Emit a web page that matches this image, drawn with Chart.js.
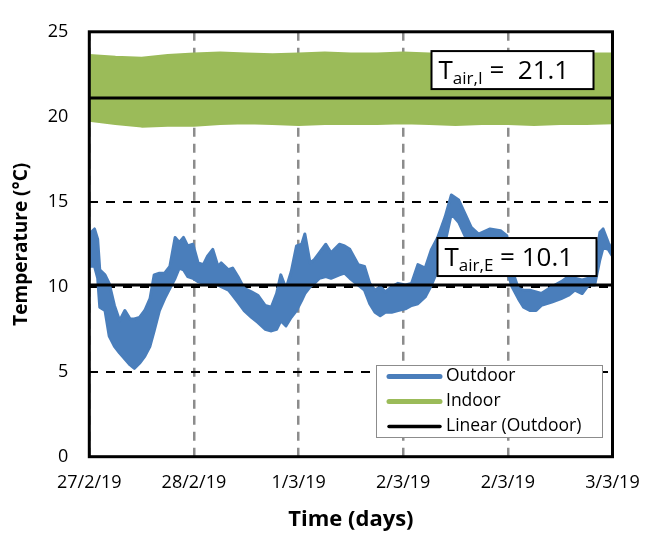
<!DOCTYPE html>
<html>
<head>
<meta charset="utf-8">
<script src="https://cdn.jsdelivr.net/npm/chart.js@4/dist/chart.umd.min.js"></script>
<style>
  html, body { margin: 0; padding: 0; background: #ffffff; }
  #wrap { width: 655px; height: 535px; }
</style>
</head>
<body>
<div id="wrap"><canvas id="chart" width="655" height="535"></canvas></div>
<script>
// Tick labels of the time axis (one per day gridline) and of the temperature axis
const dayLabels = ['27/2/19', '28/2/19', '1/3/19', '2/3/19', '2/3/19', '3/3/19'];
const tempTicks = [0, 5, 10, 15, 20, 25];

// Outdoor air temperature: time in days, upper and lower edge of the logged trace (°C)
const outdoorTime = [0.00, 0.05, 0.08, 0.10, 0.15, 0.19, 0.24, 0.29, 0.34, 0.39, 0.43, 0.48, 0.53, 0.58, 0.62,
  0.67, 0.72, 0.77, 0.82, 0.86, 0.90, 0.94, 0.99, 1.04, 1.09, 1.13, 1.18, 1.23, 1.26, 1.33,
  1.37, 1.42, 1.48, 1.55, 1.61, 1.68, 1.74, 1.79, 1.83, 1.88, 1.93, 1.98, 2.03, 2.06, 2.11,
  2.15, 2.20, 2.26, 2.31, 2.39, 2.44, 2.49,
  2.57, 2.63, 2.68, 2.73, 2.78, 2.83, 2.89, 2.95,
  3.02, 3.08, 3.14, 3.21, 3.27, 3.33, 3.40, 3.46, 3.53, 3.59, 3.65, 3.72, 3.83, 3.93, 3.99,
  4.04, 4.10, 4.15, 4.21, 4.27, 4.32, 4.42, 4.51, 4.58, 4.64, 4.71, 4.77, 4.83, 4.88, 4.91, 4.96, 5.00];
const outdoorHigh = [13.1, 13.4, 12.8, 11.0, 10.7, 10.2, 8.9, 8.0, 8.6, 8.1, 8.1, 8.2, 8.6, 9.3, 10.7,
  10.8, 10.8, 11.2, 12.9, 12.6, 12.9, 12.4, 12.5, 11.4, 11.3, 11.8, 12.2, 11.2, 11.4, 11.0,
  11.1, 10.6, 9.9, 9.7, 9.5, 8.9, 8.8, 9.6, 10.7, 9.9, 10.9, 12.4, 12.5, 13.1, 11.4,
  11.6, 12.0, 12.5, 12.0, 12.5, 12.4, 12.2,
  11.3, 11.2, 10.2, 9.8, 10.0, 9.7, 10.0, 10.2,
  10.1, 10.2, 11.3, 11.1, 12.2, 12.9, 14.1, 15.4, 15.1, 14.3, 13.5, 13.1, 13.4, 13.3, 13.0,
  11.0, 9.9, 9.8, 9.8, 9.7, 9.6, 10.0, 10.3, 10.6, 10.5, 10.4, 10.5, 11.2, 13.2, 13.4, 12.6, 12.1];
const outdoorLow = [11.2, 11.2, 10.5, 8.8, 8.6, 7.1, 6.5, 6.1, 5.75, 5.4, 5.2, 5.5, 5.9, 6.5, 7.4,
  8.6, 9.3, 9.9, 10.5, 11.1, 11.0, 10.6, 10.5, 10.3, 10.2, 10.2, 10.2, 10.1, 10.0, 9.8,
  9.5, 9.1, 8.6, 8.2, 7.9, 7.5, 7.4, 7.5, 8.0, 7.7, 8.2, 8.6, 9.2, 9.6, 10.0,
  10.2, 10.5, 10.6, 10.5, 10.7, 10.8, 10.5,
  10.1, 9.8, 9.0, 8.5, 8.3, 8.5, 8.5, 8.6,
  8.7, 8.9, 9.0, 9.4, 10.1, 11.0, 12.6, 14.3, 13.8, 13.0, 12.7, 12.6, 12.8, 12.7, 11.0,
  10.0, 9.3, 8.8, 8.6, 8.6, 8.9, 9.1, 9.3, 9.5, 9.8, 9.6, 10.1, 10.1, 11.6, 12.3, 12.2, 11.8];

// Indoor air temperature: time in days, upper and lower edge of the logged trace (°C)
const indoorTime = [0.00, 0.25, 0.50, 0.75, 1.00, 1.25, 1.50, 1.75, 2.00, 2.25, 2.50, 2.75, 3.00, 3.25, 3.50, 3.75, 4.00, 4.25, 4.50, 4.75, 5.00];
const indoorHigh = [23.6, 23.5, 23.45, 23.6, 23.7, 23.75, 23.7, 23.65, 23.7, 23.75, 23.7, 23.7, 23.75, 23.7, 23.7, 23.75, 23.7, 23.7, 23.75, 23.7, 23.7];
const indoorLow = [19.8, 19.6, 19.45, 19.5, 19.5, 19.6, 19.65, 19.6, 19.55, 19.6, 19.6, 19.6, 19.65, 19.6, 19.55, 19.6, 19.6, 19.55, 19.6, 19.6, 19.65];

// Mean temperatures (linear trend lines)
const outdoorMean = 10.1;
const indoorMean = 21.1;

const BLUE = '#4a7ebb';
const GREEN = '#9bbb59';
const FONT = '"Open Sans", "DejaVu Sans", sans-serif';

const pts = (xs, ys) => xs.map((x, i) => ({ x: x, y: ys[i] }));
const flat = (v) => [{ x: 0, y: v }, { x: 5, y: v }];

// Plot frame drawn over the data
const framePlugin = {
  id: 'frame',
  afterDatasetsDraw(chart) {
    const { ctx, chartArea: a } = chart;
    ctx.save();
    ctx.strokeStyle = '#000';
    ctx.lineWidth = 3;
    ctx.strokeRect(a.left, a.top, a.right - a.left, a.bottom - a.top);
    ctx.restore();
  }
};

// Boxed labels giving the mean temperatures above each trend line
const meanTagPlugin = {
  id: 'meanTags',
  afterDraw(chart) {
    const { ctx, chartArea: a, scales } = chart;
    const tags = [
      { sub: 'air,I', rest: ' =  ' + indoorMean.toFixed(1), value: indoorMean, left: a.right - 181, width: 162 },
      { sub: 'air,E', rest: ' = ' + outdoorMean.toFixed(1), value: outdoorMean, left: a.right - 175, width: 159 }
    ];
    ctx.save();
    tags.forEach(t => {
      const bottom = scales.y.getPixelForValue(t.value) - 9;
      const top = bottom - 38;
      ctx.fillStyle = '#fff';
      ctx.fillRect(t.left, top, t.width, 38);
      ctx.strokeStyle = '#000';
      ctx.lineWidth = 2;
      ctx.strokeRect(t.left, top, t.width, 38);
      ctx.fillStyle = '#000';
      ctx.textBaseline = 'alphabetic';
      ctx.textAlign = 'left';
      let x = t.left + 7;
      const base = top + 28;
      ctx.font = '26px ' + FONT;
      ctx.fillText('T', x, base);
      x += ctx.measureText('T').width;
      ctx.font = '17px ' + FONT;
      ctx.fillText(t.sub, x, base + 5);
      x += ctx.measureText(t.sub).width;
      ctx.font = '26px ' + FONT;
      ctx.fillText(t.rest, x, base);
    });
    ctx.restore();
  }
};

// Legend box inside the plot area
const boxLegendPlugin = {
  id: 'boxLegend',
  afterDraw(chart) {
    const { ctx, chartArea: a } = chart;
    const items = chart.data.datasets.filter(d => d.inLegend);
    const left = a.right - 236.5, top = 365, w = 226, h = 72;
    ctx.save();
    ctx.fillStyle = '#fff';
    ctx.fillRect(left, top, w, h);
    ctx.strokeStyle = '#8c8c8c';
    ctx.lineWidth = 1;
    ctx.strokeRect(left + 0.5, top + 0.5, w, h);
    ctx.font = '17.5px ' + FONT;
    ctx.textBaseline = 'middle';
    ctx.textAlign = 'left';
    items.forEach((d, i) => {
      const y = top + 11.5 + i * 25;
      ctx.strokeStyle = d.borderColor;
      ctx.lineWidth = d.legendWidth;
      ctx.lineCap = 'round';
      ctx.beginPath();
      ctx.moveTo(left + 13, y);
      ctx.lineTo(left + 64, y);
      ctx.stroke();
      ctx.fillStyle = '#000';
      ctx.fillText(d.label, left + 70, y);
    });
    ctx.restore();
  }
};

new Chart(document.getElementById('chart'), {
  type: 'line',
  data: {
    datasets: [
      { label: 'Outdoor', data: pts(outdoorTime, outdoorHigh), borderColor: BLUE, backgroundColor: BLUE, borderWidth: 3, fill: '+1', order: 3, inLegend: true, legendWidth: 5 },
      { label: 'Outdoor low', data: pts(outdoorTime, outdoorLow), borderColor: BLUE, borderWidth: 3, fill: false, order: 4 },
      { label: 'Indoor', data: pts(indoorTime, indoorHigh), borderColor: GREEN, backgroundColor: GREEN, borderWidth: 3, fill: '+1', order: 5, inLegend: true, legendWidth: 5 },
      { label: 'Indoor low', data: pts(indoorTime, indoorLow), borderColor: GREEN, borderWidth: 3, fill: false, order: 6 },
      { label: 'Linear (Outdoor)', data: flat(outdoorMean), borderColor: '#000', borderWidth: 3, order: 2, inLegend: true, legendWidth: 3.5 },
      { label: 'Linear (Indoor)', data: flat(indoorMean), borderColor: '#000', borderWidth: 3, order: 1, inLegend: false }
    ]
  },
  options: {
    responsive: false,
    animation: false,
    devicePixelRatio: 1,
    elements: { point: { radius: 0, hoverRadius: 0 }, line: { tension: 0, borderJoinStyle: 'round', borderCapStyle: 'butt' } },
    layout: { padding: { left: 0, right: 42.5, top: 15, bottom: 0 } },
    plugins: { legend: { display: false }, tooltip: { enabled: false } },
    scales: {
      x: {
        type: 'linear', min: 0, max: 5,
        afterBuildTicks: (s) => { s.ticks = dayLabels.map((_, i) => ({ value: i })); },
        afterFit: (s) => { s.height = 78.3; },
        ticks: { callback: (v) => dayLabels[v], color: '#000', font: { family: FONT, size: 18 }, padding: 15, maxRotation: 0, autoSkip: false },
        grid: { color: '#8c8c8c', lineWidth: 2.5, drawTicks: false },
        border: { display: false, dash: [9, 7] },
        title: { display: true, text: 'Time (days)', color: '#000', font: { family: FONT, size: 22, weight: 'bold' }, padding: { top: 0, bottom: 2 } }
      },
      y: {
        min: 0, max: 25,
        afterBuildTicks: (s) => { s.ticks = tempTicks.map(v => ({ value: v })); },
        afterFit: (s) => { s.width = 89.3; },
        ticks: { color: '#000', font: { family: FONT, size: 18 }, padding: 21 },
        grid: { color: '#000', lineWidth: 2, drawTicks: false },
        border: { display: false, dash: [9, 8] },
        title: { display: true, text: 'Temperature (°C)', color: '#000', font: { family: FONT, size: 19, weight: 'bold' }, padding: { top: 10.5, bottom: 0 } }
      }
    }
  },
  plugins: [framePlugin, meanTagPlugin, boxLegendPlugin]
});
</script>
</body>
</html>
